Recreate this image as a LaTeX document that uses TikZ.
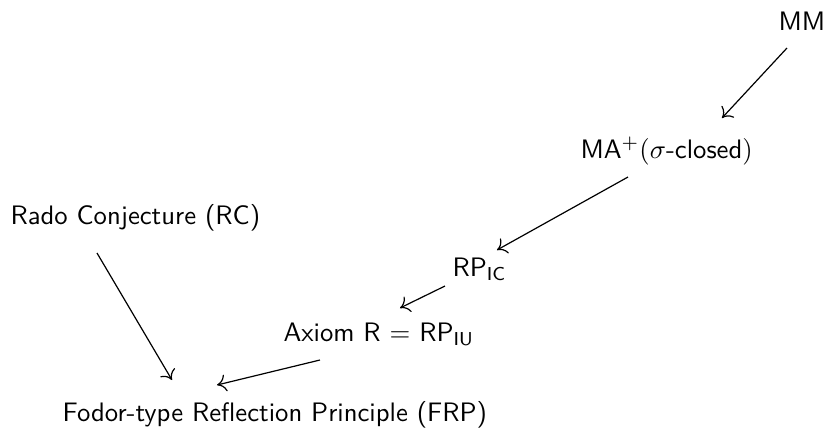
\documentclass[tikz,border=0pt]{standalone}
\usetikzlibrary{calc,arrows.meta}
\begin{document}
\begin{tikzpicture}[x=0.3745pt,y=-0.3745pt,
  lbl/.style={anchor=base west,inner sep=0pt,font=\sffamily},
  arr/.style={-{Computer Modern Rightarrow[length=3.4pt,width=6.4pt]},line width=0.45pt}]
\useasboundingbox (0,0) rectangle (825,428);
\node[lbl] (MM) at (778,30) {MM};
\node[lbl] (MA) at (580,158) {MA$^+(\sigma$-closed$)$};
\node[lbl] (RC) at (10,224) {Rado Conjecture (RC)};
\node[lbl] (RP) at (452,276) {RP$_{\mathsf{IC}}$};
\node[lbl] (AX) at (283,341) {Axiom R $=$ RP$_{\mathsf{IU}}$};
\node[lbl] (FRP) at (62,421) {Fodor-type Reflection Principle (FRP)};
\draw[arr] ($(MM.base west)+(9,18)$) -- ($(MA.base west)+(142,-40)$);
\draw[arr] ($(MA.base west)+(48,19)$) -- ($(RP.base west)+(45,-26)$);
\draw[arr] ($(RP.base west)+(-7,10)$) -- ($(AX.base west)+(117,-33)$);
\draw[arr] ($(AX.base west)+(37,19)$) -- ($(FRP.base west)+(155,-36)$);
\draw[arr] ($(RC.base west)+(87,29)$) -- ($(FRP.base west)+(110,-41)$);
\end{tikzpicture}
\end{document}
